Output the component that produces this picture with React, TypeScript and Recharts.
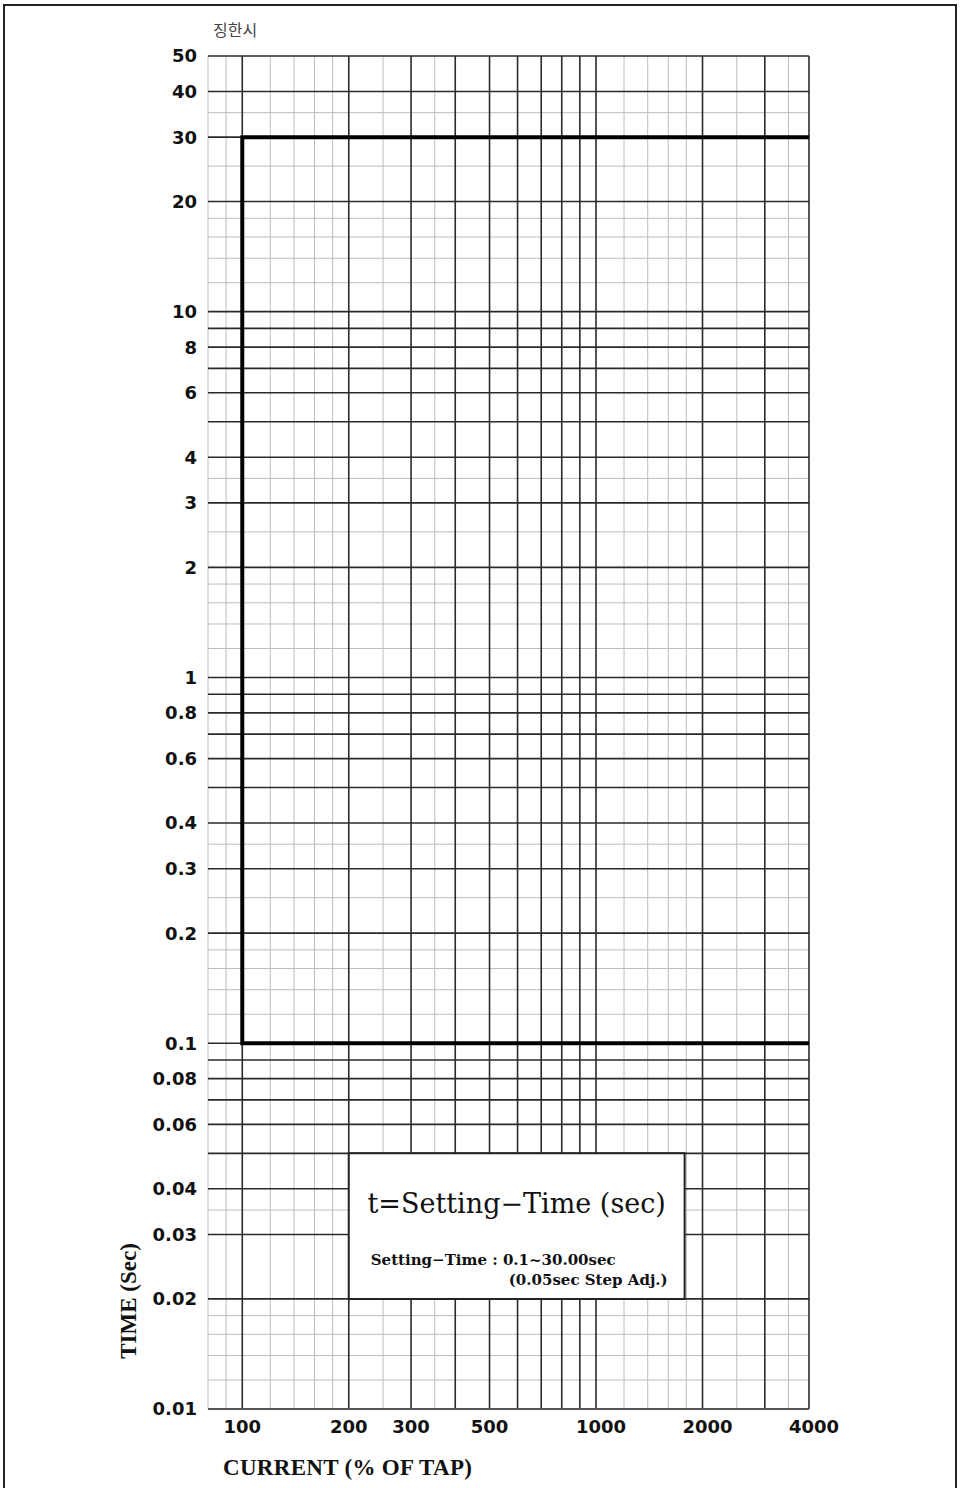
import {
  ComposedChart,
  Line,
  XAxis,
  YAxis,
  ReferenceLine,
  ReferenceArea,
} from "recharts";

const X_TICKS = [100, 200, 300, 500, 1000, 2000, 4000];
const Y_TICKS = [
  0.01, 0.02, 0.03, 0.04, 0.06, 0.08, 0.1, 0.2, 0.3, 0.4, 0.6, 0.8, 1, 2, 3,
  4, 6, 8, 10, 20, 30, 40, 50,
];

const X_MAJOR = [100, 200, 300, 400, 500, 600, 700, 800, 900, 1000, 2000, 3000, 4000];
const X_MINOR = [80, 90, 120, 140, 160, 180, 250, 350, 1200, 1400, 1600, 1800, 2500, 3500];

const Y_MAJOR = [
  0.01, 0.02, 0.03, 0.04, 0.05, 0.06, 0.07, 0.08, 0.09,
  0.1, 0.2, 0.3, 0.4, 0.5, 0.6, 0.7, 0.8, 0.9,
  1, 2, 3, 4, 5, 6, 7, 8, 9,
  10, 20, 30, 40, 50,
];
const Y_MINOR = [
  0.012, 0.014, 0.016, 0.018, 0.035,
  0.12, 0.14, 0.16, 0.18, 0.25, 0.35,
  1.2, 1.4, 1.6, 1.8, 2.5, 3.5,
  12, 14, 16, 18, 25, 35,
];

// definite-time characteristic: max 30 s, min 0.1 s, pickup at 100 %
const CURVE = [
  { current: 4000, time: 30 },
  { current: 100, time: 30 },
  { current: 100, time: 0.1 },
  { current: 4000, time: 0.1 },
];

const BOX_X = [200, 1780];
const BOX_Y = [0.02, 0.05];

const TICK_FONT = "'DejaVu Sans', sans-serif";
const LABEL_FONT = "'Liberation Serif', serif";

function BoxLabel(props: any) {
  const vb = props.viewBox || {};
  const x = vb.x ?? 0;
  const y = vb.y ?? 0;
  const w = vb.width ?? 0;
  return (
    <g fill="#111">
      <text
        x={x + w / 2}
        y={y + 60}
        textAnchor="middle"
        fontFamily="'DejaVu Serif', serif"
        fontSize={27}
      >
        t=Setting−Time (sec)
      </text>
      <text
        x={x + 22}
        y={y + 112}
        fontFamily="'DejaVu Serif', serif"
        fontWeight="bold"
        fontSize={15}
      >
        Setting−Time : 0.1~30.00sec
      </text>
      <text
        x={x + 160}
        y={y + 132}
        fontFamily="'DejaVu Serif', serif"
        fontWeight="bold"
        fontSize={15}
      >
        (0.05sec Step Adj.)
      </text>
    </g>
  );
}

function XTick(props: any) {
  const { x, y, payload } = props;
  const shift = payload.value >= 1000 ? 5 : 0;
  return (
    <text
      x={x + shift}
      y={y}
      dy="0.71em"
      textAnchor="middle"
      fontFamily={TICK_FONT}
      fontWeight="bold"
      fontSize={18}
      fill="#111"
    >
      {payload.value}
    </text>
  );
}

function YTick(props: any) {
  const { x, y, payload } = props;
  return (
    <text
      x={x}
      y={y}
      dy="0.36em"
      textAnchor="end"
      fontFamily={TICK_FONT}
      fontWeight="bold"
      fontSize={18}
      fill="#111"
    >
      {payload.value}
    </text>
  );
}

function YTitle(props: any) {
  const vb = props.viewBox || {};
  const cx = 128;
  const cy = (vb.y ?? 0) + (vb.height ?? 0) - 108;
  return (
    <text
      x={cx}
      y={cy}
      transform={`rotate(-90 ${cx} ${cy})`}
      textAnchor="middle"
      dy="0.35em"
      fontFamily={LABEL_FONT}
      fontWeight="bold"
      fontSize={23}
      fill="#111"
    >
      TIME (Sec)
    </text>
  );
}

function XTitle(props: any) {
  const vb = props.viewBox || {};
  return (
    <text
      x={223}
      y={(vb.y ?? 0) + 66}
      fontFamily={LABEL_FONT}
      fontWeight="bold"
      fontSize={23}
      letterSpacing={0.3}
      fill="#111"
    >
      CURRENT (% OF TAP)
    </text>
  );
}

export default function App() {
  return (
    <div
      style={{
        position: "absolute",
        top: 0,
        left: 0,
        width: 960,
        height: 1488,
        overflow: "hidden",
        background: "#fff",
      }}
    >
      <div
        style={{
          position: "absolute",
          top: 4,
          left: 3,
          width: 950,
          height: 1520,
          border: "2px solid #222",
        }}
      />
      <div
        style={{
          position: "absolute",
          top: 17,
          left: 213,
          fontFamily: "'Noto Sans CJK KR', sans-serif",
          fontSize: 16,
          color: "#444",
        }}
      >
        징한시
      </div>
      <div style={{ position: "absolute", top: 0, left: 0 }}>
        <ComposedChart
          width={960}
          height={1488}
          margin={{ top: 56, right: 151, bottom: 0, left: 0 }}
        >
          <XAxis
            dataKey="current"
            type="number"
            scale="log"
            domain={[80, 4000]}
            allowDataOverflow
            ticks={X_TICKS}
            interval={0}
            height={79}
            axisLine={false}
            tickLine={false}
            tickSize={0}
            tickMargin={11}
            tick={<XTick />}
            label={<XTitle />}
          />
          <YAxis
            type="number"
            scale="log"
            domain={[0.01, 50]}
            allowDataOverflow
            ticks={Y_TICKS}
            interval={0}
            width={208}
            axisLine={false}
            tickLine={false}
            tickSize={0}
            tickMargin={11}
            tick={<YTick />}
            label={<YTitle />}
          />
          {X_MINOR.map((v) => (
            <ReferenceLine
              key={`xm${v}`}
              x={v}
              stroke="#bdbdbd"
              strokeWidth={1}
              ifOverflow="visible"
              zIndex={50}
            />
          ))}
          {Y_MINOR.map((v) => (
            <ReferenceLine
              key={`ym${v}`}
              y={v}
              stroke="#bdbdbd"
              strokeWidth={1}
              ifOverflow="visible"
              zIndex={50}
            />
          ))}
          {X_MAJOR.map((v) => (
            <ReferenceLine
              key={`xM${v}`}
              x={v}
              stroke={v === 4000 ? "#555" : "#2a2a2a"}
              strokeWidth={v === 4000 ? 2 : 1.6}
              ifOverflow="visible"
              zIndex={60}
            />
          ))}
          {Y_MAJOR.map((v) => (
            <ReferenceLine
              key={`yM${v}`}
              y={v}
              stroke={v === 0.01 ? "#555" : "#2a2a2a"}
              strokeWidth={v === 0.01 ? 2 : 1.6}
              ifOverflow="visible"
              zIndex={60}
            />
          ))}
          <ReferenceArea
            x1={BOX_X[0]}
            x2={BOX_X[1]}
            y1={BOX_Y[0]}
            y2={BOX_Y[1]}
            fill="#fff"
            fillOpacity={1}
            stroke="#222"
            strokeWidth={2}
            ifOverflow="visible"
            zIndex={100}
            label={BoxLabel}
          />
          <Line
            data={CURVE}
            dataKey="time"
            stroke="#000"
            strokeWidth={4}
            dot={false}
            isAnimationActive={false}
            strokeLinecap="square"
          />
        </ComposedChart>
      </div>
    </div>
  );
}
